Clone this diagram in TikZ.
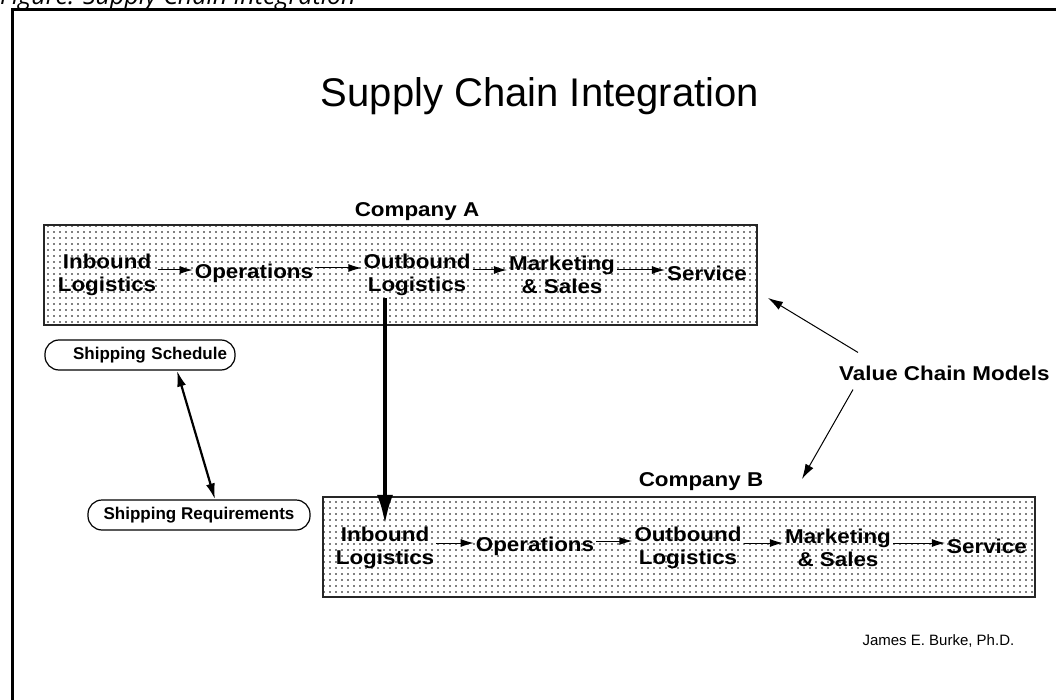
\documentclass[tikz,border=0pt]{standalone}
\usepackage{fontspec}
\setmainfont{Liberation Sans}
\newfontfamily\capfont{Open Sans}
\newfontfamily\widefont{Liberation Sans}[FakeStretch=1.12]
\usetikzlibrary{arrows.meta,patterns.meta}

\begin{document}
\begin{tikzpicture}[x=1pt,y=-1pt,
  chainbox/.style={draw=black!85,line width=1.3pt,inner sep=0pt,
    pattern={Dots[distance=6pt,radius=0.85pt]},pattern color=black},
  stage/.style={font=\widefont\bfseries\fontsize{20}{23}\selectfont,align=center,inner sep=2pt},
  complabel/.style={font=\widefont\bfseries\fontsize{20}{22}\selectfont,inner sep=1pt},
  flow/.style={-{Latex[length=13pt,width=8pt]},line width=1pt},
  bigflow/.style={-{Latex[length=30pt,width=16pt]},line width=4.5pt},
  pointer/.style={-{Latex[length=15pt,width=9pt]},line width=1pt},
  twoway/.style={{Latex[length=16pt,width=9pt]}-{Latex[length=16pt,width=9pt]},line width=2.2pt},
  pill/.style={draw,line width=1.2pt,rounded corners=14pt,minimum height=30pt,
    font=\bfseries\fontsize{17}{19}\selectfont}
]
\useasboundingbox (0,0) rectangle (1056,700);
\clip (0,0) rectangle (1056,700);

% frame and caption
\node[anchor=base west,inner sep=0pt] (caption) at (0,5)
  {\capfont\itshape\fontsize{25}{28}\selectfont Figure: Supply Chain Integration};
\draw[line width=3pt] (12,705) -- (12,10) -- (1060,10);

\node (title) at (540,96) {\fontsize{40}{44}\selectfont Supply Chain Integration};

% the two value chains
\node[chainbox,minimum width=713pt,minimum height=100pt] (compA) at (400.5,275) {};
\node[chainbox,minimum width=712pt,minimum height=100pt] (compB) at (679,547) {};
\node[complabel] (labA) at (417,212) {Company A};
\node[complabel] (labB) at (701,482) {Company B};

\node[stage] (ainb) at (107,275) {Inbound\\Logistics};
\node[stage] (aops) at (254,273) {Operations};
\node[stage] (aout) at (417,275) {Outbound\\Logistics};
\node[stage] (amkt) at (562,275) {Marketing\\\& Sales};
\node[stage] (asvc) at (707,273) {Service};

\node[stage] (binb) at (385,548) {Inbound\\Logistics};
\node[stage] (bops) at (535,546) {Operations};
\node[stage] (bout) at (688,548) {Outbound\\Logistics};
\node[stage] (bmkt) at (838,548) {Marketing\\\& Sales};
\node[stage] (bsvc) at (987,546) {Service};

\foreach \a/\b in {ainb/aops,aops/aout,aout/amkt,amkt/asvc,
                   binb/bops,bops/bout,bout/bmkt,bmkt/bsvc}
  \draw[flow] ([yshift=5pt]\a.east) -- ([yshift=5pt]\a.east -| \b.west);

% A ships to B
\draw[bigflow] (aout.south -| binb.north) -- (binb.north);

% shipping
\node[pill,text width=174pt,align=right,inner xsep=8pt] (sched) at (140,355) {Shipping Schedule};
\node[pill,minimum width=222pt] (req) at (199,515) {Shipping Requirements};
\draw[twoway] ([xshift=37pt]sched.south) -- ([xshift=16pt]req.north);

% models
\node[complabel,anchor=west] (vcm) at (838,373) {Value Chain Models};
\coordinate (tipA) at (768,298);
\coordinate (tipB) at (802,479);
\draw[pointer] ([xshift=20pt,yshift=12pt]vcm.north west) -- (tipA);
\draw[pointer] ([xshift=15pt,yshift=-8pt]vcm.south west) -- (tipB);

\node[anchor=west] (author) at (859,641) {\fontsize{15}{17}\selectfont James E. Burke, Ph.D.};
\end{tikzpicture}
\end{document}
